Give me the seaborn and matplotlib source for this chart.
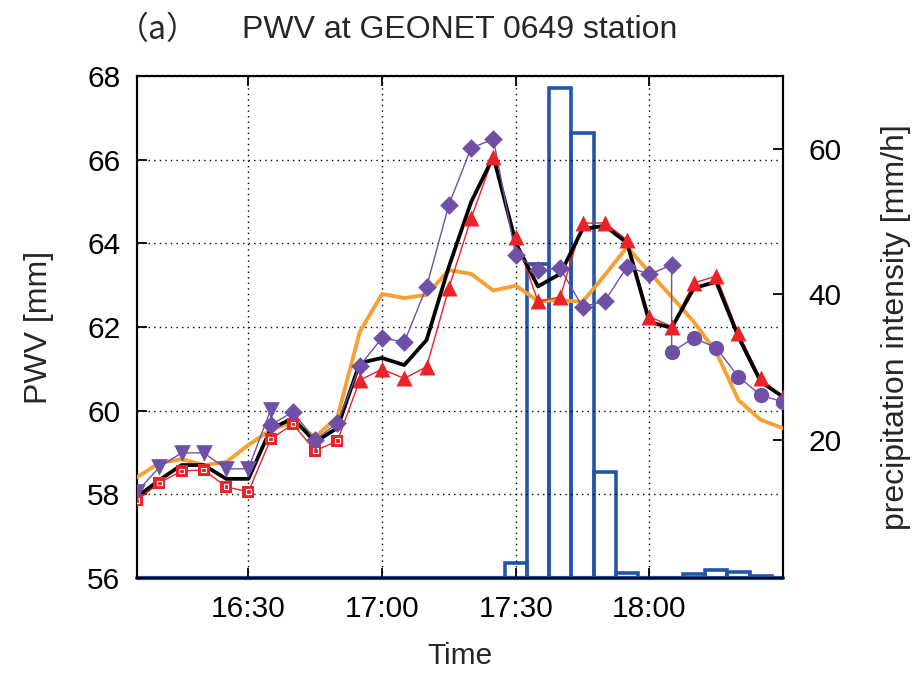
import matplotlib
matplotlib.use("Agg")
import matplotlib.pyplot as plt
import seaborn as sns
import pandas as pd

# ---------------- data ----------------
times = ["16:05", "16:10", "16:15", "16:20", "16:25", "16:30", "16:35", "16:40",
         "16:45", "16:50", "16:55", "17:00", "17:05", "17:10", "17:15", "17:20",
         "17:25", "17:30", "17:35", "17:40", "17:45", "17:50", "17:55", "18:00",
         "18:05", "18:10", "18:15", "18:20", "18:25", "18:30"]

pwv_black = [57.94, 58.34, 58.70, 58.70, 58.37, 58.37, 59.56, 59.82, 59.25, 59.59,
             61.14, 61.26, 61.09, 61.69, 63.44, 64.99, 66.07, 64.01, 62.97, 63.27,
             64.34, 64.42, 64.01, 62.12, 61.98, 62.93, 63.08, 61.76, 60.69, 60.33]

pwv_orange = [58.41, 58.75, 58.84, 58.70, 58.77, 59.18, 59.54, 59.73, 59.37, 59.85,
              61.88, 62.79, 62.69, 62.77, 63.36, 63.27, 62.87, 62.99, 62.62, 62.64,
              62.60, 63.24, 63.91, 63.31, 62.72, 62.12, 61.40, 60.25, 59.78, 59.58]

pwv_red = [57.86, 58.27, 58.56, 58.58, 58.18, 58.06, 59.32, 59.68, 59.04, 59.28,
           60.73, 60.99, 60.77, 61.05, 62.93, 64.60, 66.07, 64.14, 62.61, 62.72,
           64.48, 64.49, 64.08, 62.25, 62.01, 63.05, 63.22, 61.85, 60.77, 60.33]
red_square_times = times[:10]
red_triangle_times = times[10:]

purple_tri_times = times[0:7]
purple_tri = [58.06, 58.65, 58.99, 58.99, 58.61, 58.61, 60.02]
purple_dia_times = times[6:25]
purple_dia = [59.66, 59.97, 59.30, 59.71, 61.07, 61.74, 61.64, 62.96, 64.92, 66.28,
              66.49, 63.72, 63.36, 63.40, 62.48, 62.62, 63.44, 63.26, 63.48]
purple_circ_times = times[24:30]
purple_circ = [61.40, 61.74, 61.50, 60.81, 60.37, 60.21]

precip = [0, 0, 0, 0, 0, 0, 0, 0, 0, 0,
          0, 0, 0, 0, 0, 0, 0, 3.0, 44.1, 68.3,
          62.1, 15.6, 1.65, 0, 0, 1.5, 2.1, 1.8, 1.3, 0]

xtick_labels = ["16:30", "17:00", "17:30", "18:00"]
left_ticks = [56, 58, 60, 62, 64, 66, 68]
right_ticks = [20, 40, 60]

title_tag = "（a）"
title_text = "PWV at GEONET 0649 station"
xlabel = "Time"
ylabel = "PWV [mm]"
y2label = "precipitation intensity [mm/h]"


def to_min(t):
    h, m = t.split(":")
    return (int(h) - 16) * 60 + int(m)


x_all = [to_min(t) for t in times]

# ---------------- style ----------------
BLACK = "#000000"
ORANGE = "#F7A033"
RED = "#EB2328"
PURPLE = "#6F50A6"
BLUE = "#2356AA"

sns.set_theme(style="white")
plt.rcParams["font.family"] = ["Liberation Sans", "DejaVu Sans"]
FS = 21.5
FS_LAB = 23

fig = plt.figure(figsize=(9.14, 6.73), dpi=100)
ax = fig.add_axes([137 / 914, 1 - 578 / 673, 646 / 914, 502 / 673])
ax2 = ax.twinx()
ax.set_zorder(ax2.get_zorder() + 1)
ax.patch.set_visible(False)

# precipitation boxes (right axis)
ax2.bar(x_all, precip, width=5, fill=False, edgecolor=BLUE, linewidth=2.6, zorder=2)
ax2.axhline(1, color=BLUE, linewidth=3, zorder=1, clip_on=False)
ax2.set_ylim(1, 70)
ax2.set_yticks(right_ticks)

# PWV lines (left axis)
sns.lineplot(x=x_all, y=pwv_orange, ax=ax, color=ORANGE, linewidth=2.8,
             estimator=None, sort=False, zorder=3)
sns.lineplot(x=x_all, y=pwv_red, ax=ax, color=RED, linewidth=1.0,
             estimator=None, sort=False, zorder=4)
sns.lineplot(x=x_all, y=pwv_black, ax=ax, color=BLACK, linewidth=2.7,
             estimator=None, sort=False, zorder=5)

px = ([to_min(t) for t in purple_tri_times] + [to_min(t) for t in purple_dia_times]
      + [to_min(t) for t in purple_circ_times])
py = purple_tri + purple_dia + purple_circ
sns.lineplot(x=px, y=py, ax=ax, color=PURPLE, linewidth=1.0,
             estimator=None, sort=False, zorder=6)

# red markers
rs_x = [to_min(t) for t in red_square_times]
rt_x = [to_min(t) for t in red_triangle_times]
sns.scatterplot(x=rs_x, y=pwv_red[:len(rs_x)], ax=ax, marker="s", s=9 ** 2,
                color=RED, linewidth=0, zorder=7)
sns.scatterplot(x=rs_x, y=pwv_red[:len(rs_x)], ax=ax, marker="s", s=3.4 ** 2,
                facecolor="none", edgecolor="white", linewidth=0.8, zorder=8)
sns.scatterplot(x=rt_x, y=pwv_red[len(rs_x):], ax=ax, marker="^", s=11.5 ** 2,
                color=RED, linewidth=0, zorder=7)

# purple markers
sns.scatterplot(x=[to_min(t) for t in purple_tri_times], y=purple_tri, ax=ax,
                marker="v", s=12 ** 2, color=PURPLE, linewidth=0, zorder=9)
sns.scatterplot(x=[to_min(t) for t in purple_dia_times], y=purple_dia, ax=ax,
                marker="D", s=9.5 ** 2, color=PURPLE, linewidth=0, zorder=9)
sns.scatterplot(x=[to_min(t) for t in purple_circ_times], y=purple_circ, ax=ax,
                marker="o", s=11 ** 2, color=PURPLE, linewidth=0, zorder=9)

# axes
ax.set_xlim(5, 150)
ax.set_ylim(56, 68)
ax.set_yticks(left_ticks)
ax.set_xticks([to_min(t) for t in xtick_labels])
ax.set_xticklabels(xtick_labels)
ax.grid(True, color="black", linestyle=(0, (1, 3)), linewidth=1.0)

ax.tick_params(axis="both", direction="in", length=7, width=1.3, labelsize=FS,
               colors="black", top=True, right=False, left=True, bottom=True)
ax.tick_params(axis="y", pad=12)
ax.tick_params(axis="x", pad=12)
ax2.tick_params(axis="y", direction="in", length=7, width=1.3, labelsize=FS,
                right=True, pad=18, colors="black")

for a in (ax, ax2):
    for sp in a.spines.values():
        sp.set_color("black")
        sp.set_linewidth(1.5)

ax.set_xlabel(xlabel, fontsize=FS)
ax.set_ylabel(ylabel, fontsize=FS_LAB)
ax2.set_ylabel(y2label, fontsize=FS_LAB)
ax.xaxis.set_label_coords(0.5, -0.128)
ax.yaxis.set_label_coords(-0.1285, 0.5)
ax2.yaxis.set_label_coords(1.152, 0.5)

fig.text(158 / 914, 1 - 30 / 673, title_tag, fontsize=FS_LAB, ha="center", va="center",
         family=["Noto Sans CJK JP", "DejaVu Sans"])
fig.text(460 / 914, 1 - 30 / 673, title_text, fontsize=FS_LAB, ha="center", va="center")

fig.savefig("out.png", dpi=100, facecolor="white")
